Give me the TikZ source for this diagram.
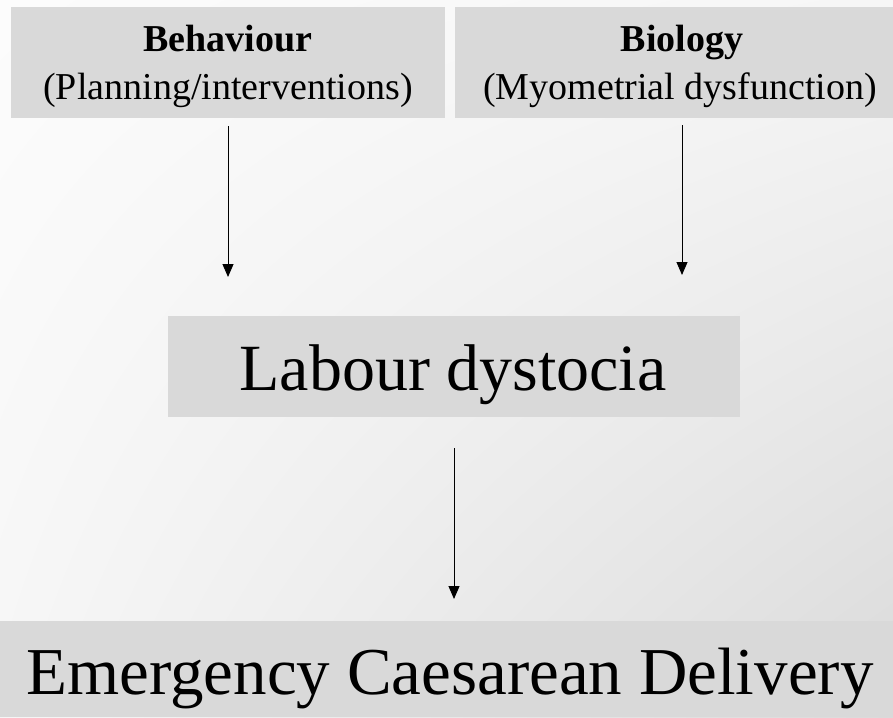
\documentclass[tikz,border=0pt]{standalone}
\usepackage{fontspec}
\setmainfont{Liberation Serif}
\usetikzlibrary{arrows.meta,shadings}
\definecolor{boxgray}{HTML}{D9D9D9}
\definecolor{bgul}{RGB}{252,252,252}
\definecolor{bgur}{RGB}{246,246,246}
\definecolor{bgll}{RGB}{246,246,246}
\definecolor{bglr}{RGB}{218,218,218}
\begin{document}
\begin{tikzpicture}[x=1pt,y=-1pt,
  arr/.style={-{Triangle[length=13pt,width=11pt]},line width=1pt},
  small/.style={anchor=base,inner sep=0pt,font=\fontsize{38}{47}\selectfont},
  big/.style={anchor=base,inner sep=0pt,font=\fontsize{66}{70}\selectfont}]
\useasboundingbox (0,0) rectangle (893,717);
\shade[upper left=bgul,upper right=bgur,lower left=bgll,lower right=bglr]
  (0,0) rectangle (893,717);
% boxes
\fill[boxgray] (11,7) rectangle (445,118);
\fill[boxgray] (455,7) rectangle (893,118);
\fill[boxgray] (168,316) rectangle (740,417);
\fill[boxgray] (0,621) rectangle (893,717);
\node[small] (beh) at (228,52) {\textbf{Behaviour}};
\node[small] (behs) at (228,99) {(Planning/interventions)};
\node[small] (bio) at (682,52) {\textbf{Biology}};
\node[small] (bios) at (680,99) {(Myometrial dysfunction)};
\node[big] (lab) at (453,390) {Labour dystocia};
\node[big,font=\fontsize{67}{70}\selectfont] (ecd) at (450,694) {Emergency Caesarean Delivery};
\coordinate (a1s) at (228,126); \coordinate (a1e) at (228,277);
\coordinate (a2s) at (682,125); \coordinate (a2e) at (682,275);
\coordinate (a3s) at (454,448); \coordinate (a3e) at (454,599);
\draw[arr] (a1s) -- (a1e);
\draw[arr] (a2s) -- (a2e);
\draw[arr] (a3s) -- (a3e);
\end{tikzpicture}
\end{document}
